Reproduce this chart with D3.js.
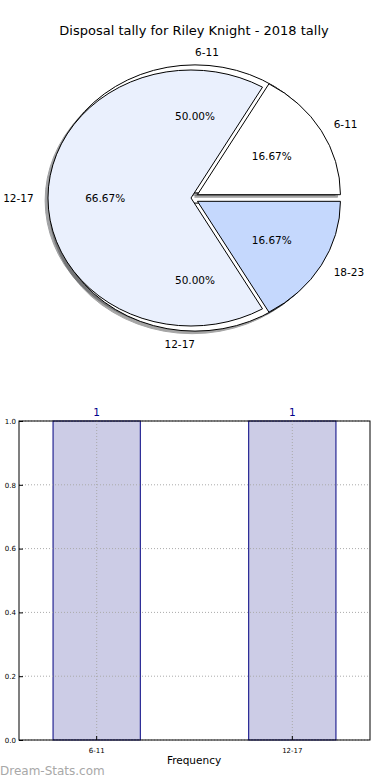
<!DOCTYPE html>
<html><head><meta charset="utf-8">
<script src="https://cdn.jsdelivr.net/npm/d3@7"></script>
<style>
html,body{margin:0;padding:0;background:#fff;}
text{font-family:"DejaVu Sans",sans-serif;}
</style></head>
<body><svg id="c" width="390" height="780"></svg>
<script>
// ---- data ----
const title = "Disposal tally for Riley Knight - 2018 tally";
// outer (three-slice) pie
const pieLabels = ["6-11", "12-17", "18-23"];
const pieValues = [1, 4, 1];
const pieColors = ["#ffffff", "#eaf0fd", "#c5d8fd"];
const pieExplode = [0.052, 0, 0.052];
// second (two-slice) pie drawn beneath
const pie2Labels = ["6-11", "12-17"];
const pie2Values = [1, 1];
const pie2Colors = ["#ffffff", "#ffffff"];
const pie2Explode = [0.04, 0.04];
// histogram
const barCategories = ["6-11", "12-17"];
const barValues = [1, 1];
const yTicks = [0.0, 0.2, 0.4, 0.6, 0.8, 1.0];
const xLabel = "Frequency";
const watermark = "Dream-Stats.com";

const svg = d3.select("#c");

svg.append("text").attr("x", 194).attr("y", 35).attr("text-anchor", "middle")
  .attr("font-size", 13).attr("fill", "#000").text(title);

// ---- pies ----
const rx = 143, ry = 128;
function shade(c){ const r = d3.rgb(c); return d3.rgb(r.r*0.3, r.g*0.3, r.b*0.3).toString(); }
function layout(values){
  return d3.pie().sort(null).startAngle(Math.PI/2).endAngle(Math.PI/2 - 2*Math.PI)(values);
}
const arc = d3.arc().innerRadius(0).outerRadius(1);
function offs(d, e){ const m = (d.startAngle + d.endAngle)/2; return [Math.sin(m)*e, -Math.cos(m)*e]; }

const pies = [
  {cx: 195, cy: 198, labels: pie2Labels, values: pie2Values, colors: pie2Colors, explode: pie2Explode},
  {cx: 191, cy: 198, labels: pieLabels, values: pieValues, colors: pieColors, explode: pieExplode}
];
pies.forEach(p => { p.arcs = layout(p.values); });

// shadows first (matplotlib draws all shadows beneath wedges)
pies.forEach(p => {
  const g = svg.append("g").attr("transform", `translate(${p.cx},${p.cy}) scale(${rx},${ry})`);
  p.arcs.forEach((d, i) => {
    const [ox, oy] = offs(d, p.explode[i]);
    g.append("path").attr("d", arc(d))
      .attr("transform", `translate(${ox - 0.02},${oy + 0.02})`)
      .attr("fill", shade(p.colors[i])).attr("stroke", shade(p.colors[i]))
      .attr("opacity", 0.5).attr("stroke-width", 1).attr("vector-effect", "non-scaling-stroke");
  });
});
pies.forEach(p => {
  const g = svg.append("g").attr("transform", `translate(${p.cx},${p.cy}) scale(${rx},${ry})`);
  p.arcs.forEach((d, i) => {
    const [ox, oy] = offs(d, p.explode[i]);
    g.append("path").attr("d", arc(d))
      .attr("transform", `translate(${ox},${oy})`)
      .attr("fill", p.colors[i]).attr("stroke", "#000")
      .attr("stroke-width", 1).attr("vector-effect", "non-scaling-stroke");
  });
});
// labels
pies.forEach(p => {
  const total = d3.sum(p.values);
  p.arcs.forEach((d, i) => {
    const [ox, oy] = offs(d, p.explode[i]);
    const th = Math.PI/2 - (d.startAngle + d.endAngle)/2;
    const c = Math.cos(th), s = Math.sin(th);
    svg.append("text")
      .attr("x", p.cx + rx*(1.1*c + ox)).attr("y", p.cy + ry*(-1.1*s + oy))
      .attr("text-anchor", c > 0 ? "start" : "end").attr("dominant-baseline", "central")
      .attr("font-size", 10.5).text(p.labels[i]);
    svg.append("text")
      .attr("x", p.cx + rx*(0.6*c + ox)).attr("y", p.cy + ry*(-0.6*s + oy))
      .attr("text-anchor", "middle").attr("dominant-baseline", "central")
      .attr("font-size", 10.5).text((100*p.values[i]/total).toFixed(2) + "%");
  });
});

// ---- bar chart ----
const L = 19, R = 370, T = 421, B = 740;
const x = d3.scaleBand().domain(barCategories).range([L, R]).paddingInner(0.554).paddingOuter(0.174);
const y = d3.scaleLinear().domain([0, 1]).range([B, T]);
const bc = svg.append("g");
bc.selectAll("rect.bar").data(barValues).enter().append("rect")
  .attr("x", (d, i) => x(barCategories[i])).attr("y", d => y(d))
  .attr("width", x.bandwidth()).attr("height", d => y(0) - y(d))
  .attr("fill", "#ccccE6").attr("stroke", "#000080").attr("stroke-width", 1);
// grid
yTicks.forEach(t => {
  bc.append("line").attr("x1", L).attr("x2", R).attr("y1", y(t)).attr("y2", y(t))
    .attr("stroke", "#aaa").attr("stroke-dasharray", "1,2");
});
barCategories.forEach(c => {
  const cx = x(c) + x.bandwidth()/2;
  bc.append("line").attr("x1", cx).attr("x2", cx).attr("y1", T).attr("y2", B)
    .attr("stroke", "#aaa").attr("stroke-dasharray", "1,2");
});
bc.append("rect").attr("x", L).attr("y", T).attr("width", R - L).attr("height", B - T)
  .attr("fill", "none").attr("stroke", "#000").attr("stroke-width", 1);
// y axis
const yAxis = d3.axisLeft(y).tickValues(yTicks).tickFormat(d3.format(".1f")).tickSize(-4).tickPadding(3);
const ya = svg.append("g").attr("transform", `translate(${L},0)`).call(yAxis);
ya.select(".domain").remove();
ya.selectAll("text").attr("font-size", 7).attr("font-family", "DejaVu Sans").attr("x", -3);
const xAxis = d3.axisBottom(x).tickSize(-4).tickPadding(4);
const xa = svg.append("g").attr("transform", `translate(0,${B})`).call(xAxis);
xa.select(".domain").remove();
xa.selectAll("text").attr("font-size", 7).attr("font-family", "DejaVu Sans").attr("y", 8);
// value labels
bc.selectAll("text.val").data(barValues).enter().append("text")
  .attr("x", (d, i) => x(barCategories[i]) + x.bandwidth()/2).attr("y", d => y(d) - 5)
  .attr("text-anchor", "middle").attr("font-size", 10.5).attr("fill", "#00008b").text(d => d);
svg.append("text").attr("x", 194).attr("y", 764).attr("text-anchor", "middle")
  .attr("font-size", 10.5).text(xLabel);
svg.append("text").attr("x", 0).attr("y", 775).attr("font-size", 12)
  .attr("fill", "#a8a8a8").text(watermark);
</script></body></html>
